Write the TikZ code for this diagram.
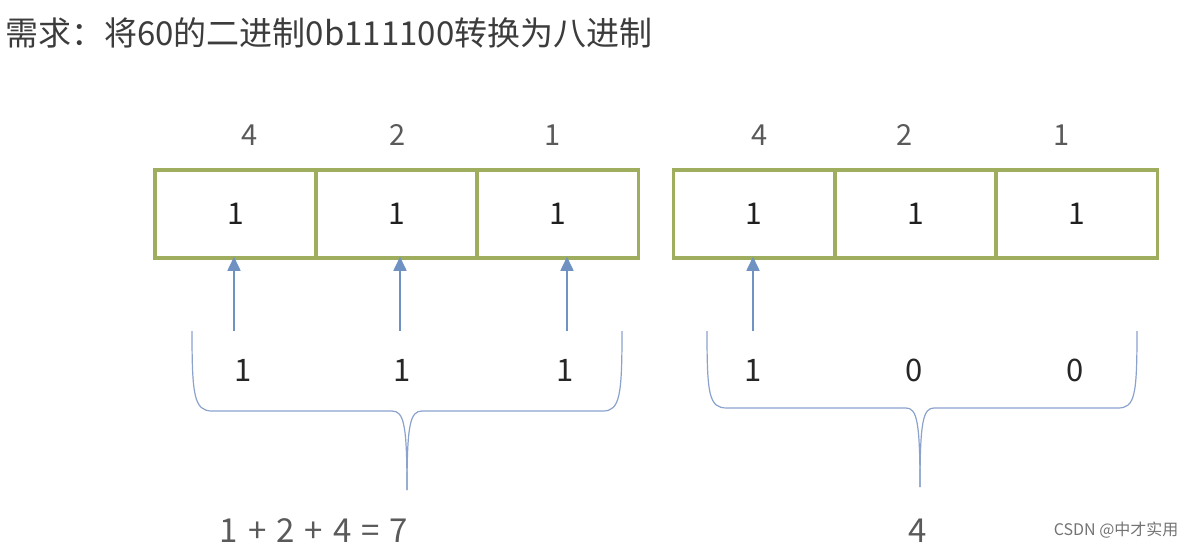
\documentclass[tikz,border=0pt]{standalone}
\usepackage{fontspec}
\setmainfont{Noto Sans CJK SC}
\usetikzlibrary{arrows.meta}
\definecolor{olive}{HTML}{9FAD5E}
\definecolor{arrblue}{HTML}{6F92C2}
\definecolor{brblue}{HTML}{8AA2CC}
\definecolor{titlegray}{HTML}{3C3C3C}
\definecolor{lblgray}{HTML}{5A5A5A}
\tikzset{
  cell/.style={draw=olive, line width=3.5pt, minimum width=161pt, minimum height=88pt, inner sep=0pt, font=\fontsize{30}{30}\selectfont, text=black!88},
  weight/.style={font=\fontsize{29}{29}\selectfont, text=lblgray},
  bit/.style={font=\fontsize{31}{31}\selectfont, text=black!85},
  arr/.style={draw=arrblue, line width=1.6pt, -{Triangle[width=13pt,length=14pt]}},
  brace/.style={draw=brblue, line width=1.2pt},
  result/.style={font=\fontsize{33}{33}\selectfont, text=lblgray},
}
\newcommand{\gp}{\hspace{10pt}}
\begin{document}
\begin{tikzpicture}[x=1pt,y=-1pt]
\useasboundingbox (0,0) rectangle (1195,547);
\node[anchor=west, font=\fontsize{33}{33}\selectfont, text=titlegray, inner sep=0pt] (title) at (5,33) {需求：将60的二进制0b111100转换为八进制};
% left box
\node[cell] (L1) at (235.5,214) {1};
\node[cell] (L2) at (396.5,214) {1};
\node[cell] (L3) at (558,214) {1};
% right box
\node[cell] (R1) at (754,214) {1};
\node[cell] (R2) at (915.5,214) {1};
\node[cell] (R3) at (1077,214) {1};
% weights
\node[weight] (wl1) at (250,135) {4};
\node[weight] (wl2) at (398,135) {2};
\node[weight] (wl3) at (553,135) {1};
\node[weight] (wr1) at (760,135) {4};
\node[weight] (wr2) at (905,135) {2};
\node[weight] (wr3) at (1062,135) {1};
% bottom bits
\node[bit] (bl1) at (243,370) {1};
\node[bit] (bl2) at (402,370) {1};
\node[bit] (bl3) at (565,370) {1};
\node[bit] (br1) at (753,370) {1};
\node[bit] (br2) at (914,370) {0};
\node[bit] (br3) at (1075,370) {0};
% arrows
\coordinate (al1) at (234,331);
\coordinate (al2) at (400,331);
\coordinate (al3) at (567,331);
\coordinate (ar1) at (753,331);
\draw[arr] (al1) -- ([yshift=3pt]al1 |- L1.south);
\draw[arr] (al2) -- ([yshift=3pt]al2 |- L2.south);
\draw[arr] (al3) -- ([yshift=3pt]al3 |- L3.south);
\draw[arr] (ar1) -- ([yshift=3pt]ar1 |- R1.south);
% braces
\draw[brace] (192,331) .. controls (192,395) and (194,411) .. (212,411) -- (392,411)
  .. controls (404,411) and (407,425) .. (407,490);
\draw[brace] (407,490) .. controls (407,425) and (410,411) .. (422,411) -- (603,411)
  .. controls (620,411) and (622,395) .. (622,331);
\draw[brace] (707,331) .. controls (707,395) and (709,408) .. (727,408) -- (906,408)
  .. controls (917,408) and (920,422) .. (920,487);
\draw[brace] (920,487) .. controls (920,422) and (923,408) .. (934,408) -- (1118,408)
  .. controls (1135,408) and (1137,395) .. (1137,331);
% results
\node[result] (sum) at (314,531) {1\gp+\gp2\gp+\gp4\gp=\gp7};
\node[result] (four) at (918,531) {4};
\node[font=\fontsize{16}{16}\selectfont, text=black!55, anchor=east] (wm) at (1182,530) {CSDN @中才实用};
\end{tikzpicture}
\end{document}
